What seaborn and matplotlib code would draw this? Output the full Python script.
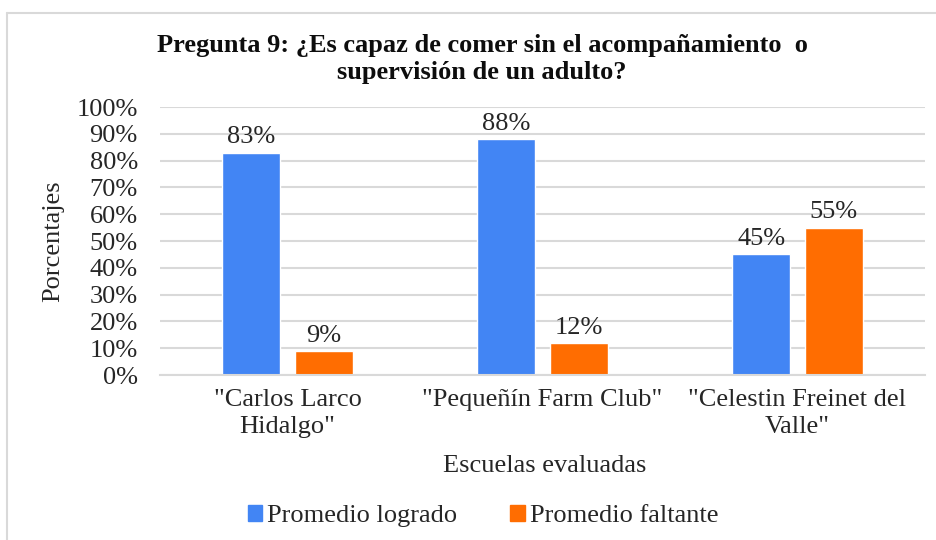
import matplotlib
matplotlib.use("Agg")
import matplotlib.pyplot as plt
from matplotlib.lines import Line2D
from matplotlib.patches import Patch
import pandas as pd
import seaborn as sns

# datos
escuelas = ['"Carlos Larco\nHidalgo"', '"Pequeñín Farm Club"', '"Celestin Freinet del\nValle"']
series = ["Promedio logrado", "Promedio faltante"]
logrado = [83, 88, 45]
faltante = [9, 12, 55]
yticks = list(range(0, 101, 10))

colores = {"Promedio logrado": "#4285F4", "Promedio faltante": "#FF6D01"}

df = pd.DataFrame({
    "escuela": escuelas * 2,
    "serie": [series[0]] * 3 + [series[1]] * 3,
    "valor": logrado + faltante,
})

sns.set_theme(style="white")
plt.rcParams["font.family"] = ["Liberation Serif", "DejaVu Serif"]

FS = 19
TXT = "#262626"
W, H = 937, 540
fig = plt.figure(figsize=(W / 100, H / 100), dpi=100)
ax = fig.add_axes([160 / W, 1 - 375 / H, 765 / W, 268 / H])

sns.barplot(data=df, x="escuela", y="valor", hue="serie", order=escuelas,
            hue_order=series, palette=colores, width=0.57, gap=0.21,
            saturation=1, ax=ax, legend=False)

for cont in ax.containers:
    ax.bar_label(cont, labels=[f"{v:.0f}%" for v in cont.datavalues],
                 padding=3, fontsize=FS, color=TXT)

ax.set_xlim(-0.5, 2.5)
ax.set_ylim(0, 100)
ax.set_yticks(yticks)
ax.set_yticklabels([f"{t}%" for t in yticks])
ax.yaxis.grid(True, color="#D9D9D9", linewidth=1.5)
ax.set_axisbelow(True)
for s in ["top", "right", "left"]:
    ax.spines[s].set_visible(False)
ax.spines["bottom"].set_color("#D9D9D9")
ax.spines["bottom"].set_linewidth(1.5)
ax.tick_params(axis="y", length=0, pad=16, labelsize=FS, labelcolor=TXT)
ax.tick_params(axis="x", length=0, pad=10, labelsize=FS, labelcolor=TXT)
for lbl in ax.get_xticklabels():
    lbl.set_linespacing(1.3)

ax.set_xlabel("Escuelas evaluadas", fontsize=FS, color=TXT)
ax.xaxis.set_label_coords(0.503, -0.30)
ax.set_ylabel("Porcentajes", fontsize=FS, color=TXT)
ax.yaxis.set_label_coords(-0.125, 0.5)

fig.text(482 / W, 1 - 59 / H,
         "Pregunta 9: ¿Es capaz de comer sin el acompañamiento  o\nsupervisión de un adulto?",
         ha="center", va="center", fontsize=19, fontweight="bold", color="#0D0D0D",
         linespacing=1.2)

handles = [Patch(color=colores[s], label=s) for s in series]
fig.legend(handles=handles, loc="center", bbox_to_anchor=(483 / W, 1 - 516 / H),
           ncol=2, frameon=False, fontsize=FS, handlelength=0.55, handleheight=0.55,
           handletextpad=0.2, columnspacing=2.0)

# marco del gráfico
fig.add_artist(Line2D([7 / W, 7 / W], [0, 1 - 13 / H], color="#D9D9D9", linewidth=1.5))
fig.add_artist(Line2D([7 / W, 1], [1 - 13 / H, 1 - 13 / H], color="#D9D9D9", linewidth=1.5))

fig.savefig("out.png", dpi=100)
plt.close(fig)
